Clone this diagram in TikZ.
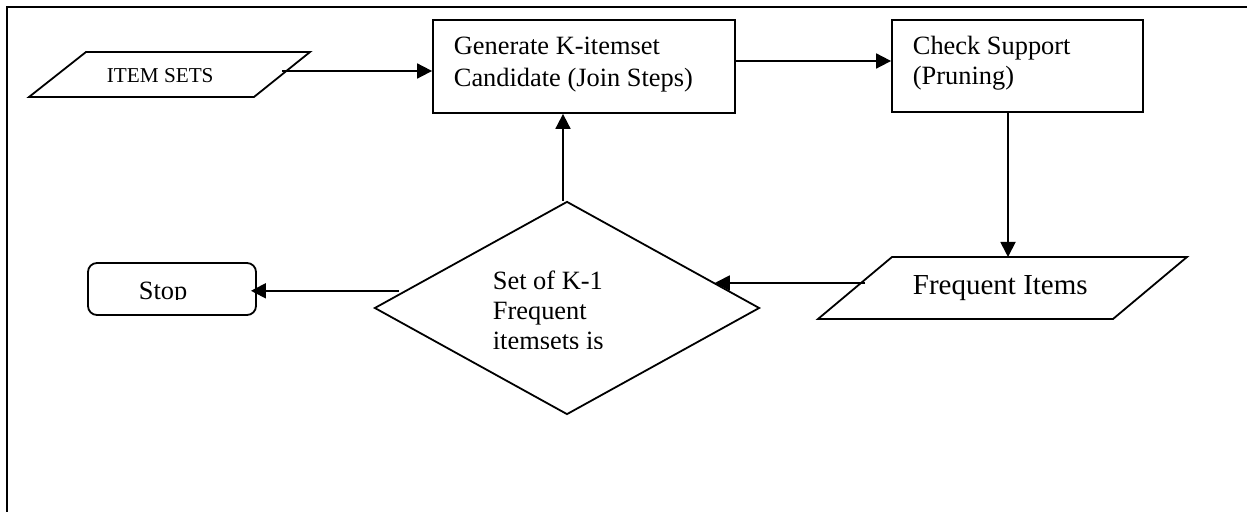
\documentclass[tikz,border=0pt]{standalone}
\usepackage{fontspec}
\setmainfont{Liberation Serif}
\usetikzlibrary{shapes.geometric,arrows.meta,calc}
\begin{document}
\begin{tikzpicture}[x=0.5pt,y=-0.5pt,
  line width=0.9pt,
  arr/.style={-{Triangle[length=7.5pt,width=7.5pt]}},
  lbl/.style={anchor=base west,inner sep=0pt,font=\fontsize{13.2pt}{15.8pt}\selectfont},
  boxshape/.style={draw,rectangle,inner sep=0pt},
]
\useasboundingbox (0,0) rectangle (1247,512);
% frame
\draw[line width=1pt] (7,512) -- (7,7) -- (1247,7);

% ITEM SETS parallelogram
\draw (86,52) -- (310,52) -- (254,97) -- (29,97) -- cycle;
\node[lbl,font=\fontsize{10.6pt}{12pt}\selectfont] (itemtxt) at (106,82.5) {ITEM SETS};
\coordinate (itemR) at (282,71);

% Generate box
\node[boxshape,minimum width=151pt,minimum height=46.5pt] (gen) at (584,66.5) {};
\node[lbl] (gen1) at (453,55) {Generate K-itemset};
\node[lbl] (gen2) at (453,86.7) {Candidate (Join Steps)};

% Check box
\node[boxshape,minimum width=125.5pt,minimum height=46pt] (chk) at (1017.5,66) {};
\node[lbl] (chk1) at (912,55) {Check Support};
\node[lbl] (chk2) at (912,85) {(Pruning)};

% Frequent Items parallelogram
\draw (892,257) -- (1187,257) -- (1113,319) -- (818,319) -- cycle;
\node[lbl,font=\fontsize{14.5pt}{17pt}\selectfont] (freqtxt) at (912,295) {Frequent Items};
\coordinate (freqTop) at (1008,257);
\coordinate (freqL) at (865,283);

% Diamond
\node[draw,diamond,minimum width=192.5pt,minimum height=106.5pt,inner sep=0pt,aspect=1.8] (dia) at (567,308) {};
\begin{scope}
\clip (380,260) rectangle (760,349);
\node[lbl] (dia1) at (492,290) {Set of K-1};
\node[lbl] (dia2) at (492,320) {Frequent};
\node[lbl] (dia3) at (492,350) {itemsets is};
\end{scope}

% Stop
\node[draw,rectangle,rounded corners=4.5pt,minimum width=84pt,minimum height=26pt,inner sep=0pt] (stop) at (172,289) {};
\begin{scope}
\clip (90,265) rectangle (254,300);
\node[lbl] (stoptxt) at (138,299.3) {Stop};
\end{scope}

% connectors
\draw[arr] (itemR) -- (itemR -| gen.west);
\draw[arr] ([yshift=2.75pt]gen.east) -- ([yshift=2.75pt]gen.east -| chk.west);
\draw[arr] (freqTop |- chk.south) -- (freqTop);
\coordinate (diaR) at ($(dia.east)!0.236!(dia.north)$);
\draw[arr] (freqL) -- (freqL -| diaR);
\coordinate (diaL) at ($(dia.west)!0.16!(dia.north)$);
\draw[arr] ([xshift=-3pt]diaL) -- ([xshift=-3pt]diaL -| stop.east);
\draw[arr] ([xshift=-2pt]dia.north) -- ([xshift=-2pt]dia.north |- gen.south);
\end{tikzpicture}
\end{document}
